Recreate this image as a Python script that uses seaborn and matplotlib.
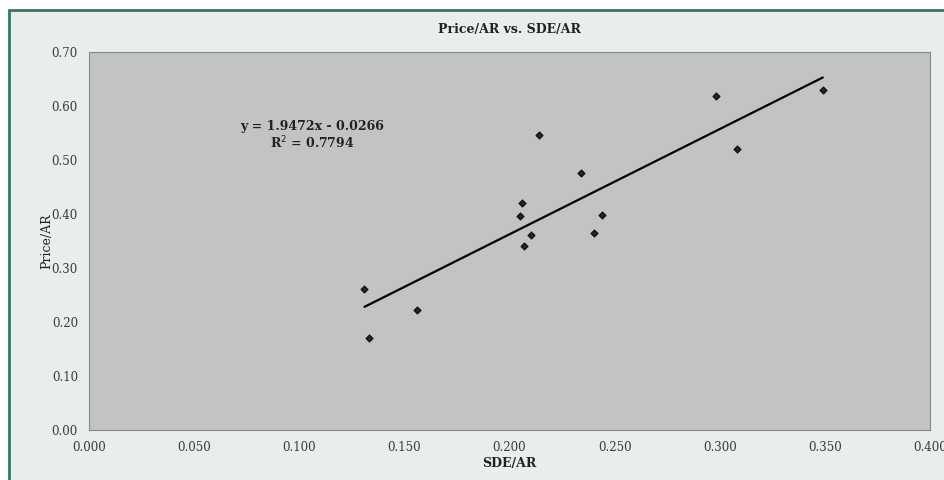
import numpy as np
import pandas as pd
import matplotlib
matplotlib.use("Agg")
import matplotlib.pyplot as plt
import seaborn as sns
from matplotlib.patches import Rectangle

sde_ar = [0.131, 0.133, 0.156, 0.205, 0.206, 0.207, 0.210, 0.214, 0.234, 0.240, 0.244, 0.298, 0.308, 0.349]
price_ar = [0.262, 0.170, 0.223, 0.396, 0.421, 0.340, 0.361, 0.546, 0.476, 0.364, 0.399, 0.619, 0.520, 0.630]
x_ticks = [0.0, 0.05, 0.10, 0.15, 0.20, 0.25, 0.30, 0.35, 0.40]
y_ticks = [0.0, 0.1, 0.2, 0.3, 0.4, 0.5, 0.6, 0.7]
title = "Price/AR vs. SDE/AR"
eq_text = "y = 1.9472x - 0.0266\nR$^2$ = 0.7794"

df = pd.DataFrame({"SDE/AR": sde_ar, "Price/AR": price_ar})

sns.set_theme(style="white")
plt.rcParams["font.family"] = ["DejaVu Serif"]

fig = plt.figure(figsize=(9.44, 4.8), dpi=100)
fig.patch.set_facecolor("white")
# light background panel with green border
fig.patches.append(Rectangle((9/944, -0.05), 1.2, 1 - 10/480 + 0.05, transform=fig.transFigure,
                             facecolor="#e8eded", edgecolor="#2f7a5c", linewidth=2.0, zorder=-10))

ax = fig.add_axes([89/944, 50/480, (930-89)/944, (430-52)/480])
ax.set_facecolor("#c2c3c3")

sns.regplot(data=df, x="SDE/AR", y="Price/AR", ax=ax, ci=None, truncate=True,
            marker="D", scatter_kws={"s": 12, "color": "black", "zorder": 3},
            line_kws={"color": "black", "linewidth": 1.6, "zorder": 2})

ax.set_xlim(0, 0.4)
ax.set_ylim(0, 0.7)
ax.set_xticks(x_ticks)
ax.set_yticks(y_ticks)
ax.set_xticklabels([f"{v:.3f}" for v in x_ticks], fontsize=8.5, color="#3a3a3a")
ax.set_yticklabels([f"{v:.2f}" for v in y_ticks], fontsize=8.5, color="#3a3a3a")
ax.tick_params(axis="both", length=2, pad=6, color="#888888")
for s in ax.spines.values():
    s.set_color("#888888")
    s.set_linewidth(0.8)

ax.set_xlabel("SDE/AR", fontsize=9, fontweight="bold", color="#222222", labelpad=2)
ax.set_ylabel("Price/AR", fontsize=9, color="#222222", labelpad=-1)
ax.set_title(title, fontsize=9, fontweight="bold", color="#222222", pad=14)

ax.text(0.106, 0.545, eq_text, fontsize=9, fontweight="bold", ha="center", va="center",
        color="#222222", linespacing=1.15)

fig.savefig("out.png", dpi=100, facecolor=fig.get_facecolor())
